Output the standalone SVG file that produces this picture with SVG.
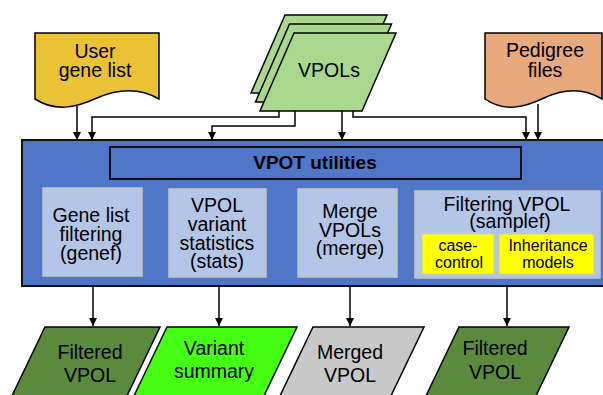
<svg xmlns="http://www.w3.org/2000/svg" width="603" height="395" viewBox="0 0 603 395">
<defs>
<style>
text{font-family:"Liberation Sans",Arial,sans-serif;fill:#000;text-anchor:middle}
.t{font-size:19.5px}
.s{font-size:16px}
.b{font-size:19px;font-weight:bold}
.doc,.para{stroke:#000;stroke-width:1.5}
.inner{fill:#b4c6e7;stroke:#c3c3c3;stroke-width:1.5}
.yel{fill:#ffff00;stroke:#c8cfa0;stroke-width:1}
.conn{fill:none;stroke:#000;stroke-width:1.5}
</style>
<marker id="ah" viewBox="0 0 10 10" refX="10" refY="5" markerWidth="8" markerHeight="8" markerUnits="userSpaceOnUse" orient="auto">
<path d="M0,0 L10,5 L0,10 Z" fill="#000"/>
</marker>
</defs>

<g id="user-gene-list">
<path class="doc" fill="#eac235" d="M35,33 H159 V99 C140,88 120,88 97,98 C75,108 55,112 35,99 Z"/>
<text class="t" x="95" y="58">User</text>
<text class="t" x="95" y="77">gene list</text>
</g>

<g id="vpols">
<path class="para" fill="#a9d88e" transform="translate(-9,-18)" d="M294,33 H396 L362,111 H260 Z"/>
<path class="para" fill="#a9d88e" transform="translate(-4.5,-9)" d="M294,33 H396 L362,111 H260 Z"/>
<path class="para" fill="#a9d88e" d="M294,33 H396 L362,111 H260 Z"/>
<text class="t" x="329" y="77">VPOLs</text>
</g>

<g id="pedigree-files">
<path class="doc" fill="#e8a97c" d="M485,33 H602 V99 C584,88 565,88 544,98 C523,108 504,112 485,99 Z"/>
<text class="t" x="545" y="57">Pedigree</text>
<text class="t" x="545" y="77">files</text>
</g>

<g id="vpot-utilities">
<rect x="22" y="140" width="590" height="146" fill="#5076c8" stroke="#111" stroke-width="2"/>
<rect x="110" y="147" width="411" height="32" fill="#5076c8" stroke="#111" stroke-width="2"/>
<text class="b" x="315" y="169">VPOT utilities</text>
</g>

<g id="genef">
<rect class="inner" x="43" y="188" width="99" height="88"/>
<text class="t" x="91" y="222">Gene list</text>
<text class="t" x="91" y="241">filtering</text>
<text class="t" x="91" y="260">(genef)</text>
</g>

<g id="stats">
<rect class="inner" x="169" y="189" width="97" height="88"/>
<text class="t" x="217" y="212">VPOL</text>
<text class="t" x="217" y="231">variant</text>
<text class="t" x="217" y="250">statistics</text>
<text class="t" x="217" y="268">(stats)</text>
</g>

<g id="merge">
<rect class="inner" x="298" y="189" width="99" height="88"/>
<text class="t" x="350" y="218">Merge</text>
<text class="t" x="350" y="237">VPOLs</text>
<text class="t" x="350" y="255">(merge)</text>
</g>

<g id="samplef">
<rect class="inner" x="415" y="191" width="185" height="87"/>
<text class="t" x="507" y="211">Filtering VPOL</text>
<text class="t" x="510" y="228">(samplef)</text>
<g id="case-control">
<rect class="yel" x="422" y="234" width="72" height="40"/>
<text class="s" x="458" y="251">case-</text>
<text class="s" x="459" y="268">control</text>
</g>
<g id="inheritance-models">
<rect class="yel" x="499" y="234" width="95" height="40"/>
<text class="s" x="548" y="251">Inheritance</text>
<text class="s" x="548" y="268">models</text>
</g>
</g>

<g id="filtered-vpol-1">
<path class="para" fill="#5b8a3c" d="M45,327 H160 L125,400 H10 Z"/>
<text class="t" x="90" y="359">Filtered</text>
<text class="t" x="90" y="382">VPOL</text>
</g>

<g id="variant-summary">
<path class="para" fill="#44ff14" d="M167,327 H297 L262,400 H132 Z"/>
<text class="t" x="214" y="355">Variant</text>
<text class="t" x="214" y="378">summary</text>
</g>

<g id="merged-vpol">
<path class="para" fill="#c8c8c8" d="M313,327 H424 L389,400 H278 Z"/>
<text class="t" x="350" y="359">Merged</text>
<text class="t" x="350" y="382">VPOL</text>
</g>

<g id="filtered-vpol-2">
<path class="para" fill="#5b8a3c" d="M459,327 H569 L534,400 H424 Z"/>
<text class="t" x="495" y="355">Filtered</text>
<text class="t" x="495" y="379">VPOL</text>
</g>

<g id="connectors">
<path class="conn" marker-end="url(#ah)" d="M77,106 V140"/>
<path class="conn" marker-end="url(#ah)" d="M279,111 V117 H92 V140"/>
<path class="conn" marker-end="url(#ah)" d="M295,111 V126 H212 V140"/>
<path class="conn" marker-end="url(#ah)" d="M342,111 V140"/>
<path class="conn" marker-end="url(#ah)" d="M353,111 V117 H526 V140"/>
<path class="conn" marker-end="url(#ah)" d="M538,104 V140"/>
<path class="conn" marker-end="url(#ah)" d="M93,287 V326"/>
<path class="conn" marker-end="url(#ah)" d="M219,287 V326"/>
<path class="conn" marker-end="url(#ah)" d="M350,287 V326"/>
<path class="conn" marker-end="url(#ah)" d="M507,287 V326"/>
</g>
</svg>
